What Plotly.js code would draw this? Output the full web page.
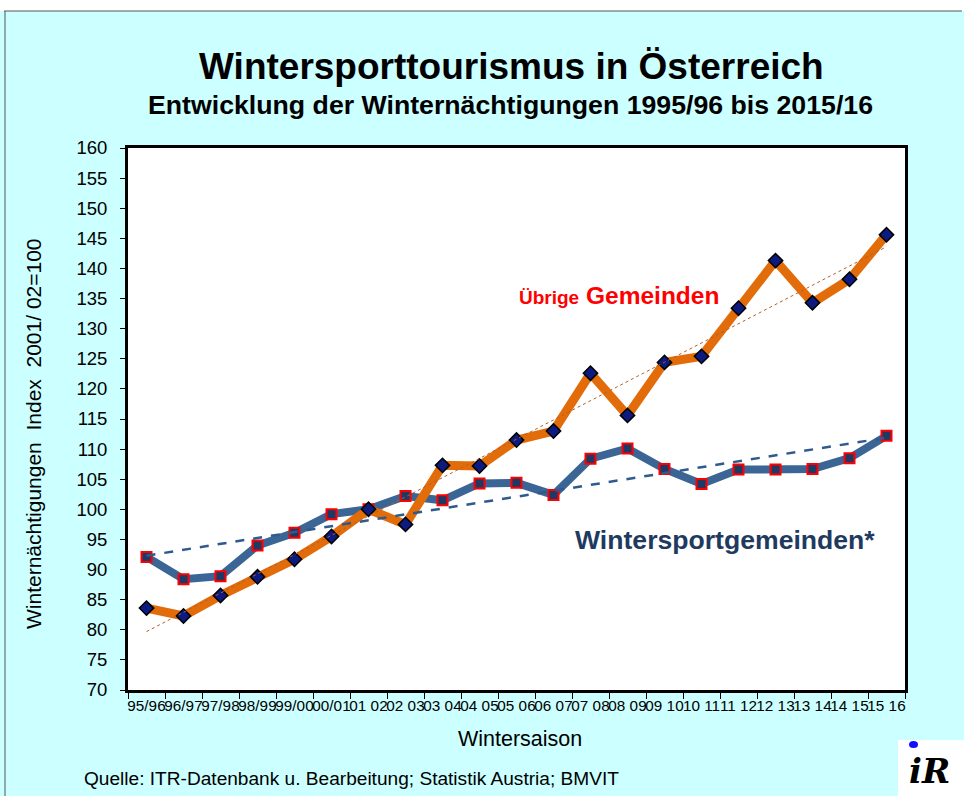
<!DOCTYPE html>
<html>
<head>
<meta charset="utf-8">
<script src="https://cdn.plot.ly/plotly-3.0.1.min.js"></script>
<style>html,body{margin:0;padding:0;background:#fff;}#chart{width:964px;height:796px;}</style>
</head>
<body>
<div id="chart"></div>
<script>
// ---- data ----
const seasons = ["95/96","96/97","97/98","98/99","99/00","00/01","01 02","02 03","03 04","04 05",
                 "05 06","06 07","07 08","08 09","09 10","10 11","11 12","12 13","13 14","14 15","15 16"];
const wintersport = [92.1, 88.4, 88.9, 94.0, 96.1, 99.2, 100.0, 102.2, 101.5, 104.3,
                     104.4, 102.4, 108.4, 110.1, 106.7, 104.2, 106.6, 106.6, 106.7, 108.5, 112.2];
const uebrige = [83.6, 82.3, 85.7, 88.8, 91.7, 95.5, 100.0, 97.5, 107.3, 107.2,
                 111.5, 113.0, 122.6, 115.6, 124.4, 125.4, 133.4, 141.3, 134.3, 138.2, 145.6];
// linear trend lines (start / end value)
const trendWintersport = [92.3, 111.9];
const trendUebrige = [79.7, 143.6];

const idx = seasons.map((s, i) => i);
const trendX = [0, seasons.length - 1];

const FONT = '"Liberation Sans", Arial, Helvetica, sans-serif';

const traces = [
  {
    x: idx, y: wintersport, type: 'scatter', mode: 'lines+markers',
    line: {color: '#3A6595', width: 8},
    marker: {symbol: 'square', size: 10, color: '#1F3864', line: {color: '#FF0000', width: 2}},
    hoverinfo: 'y'
  },
  {
    x: idx, y: uebrige, type: 'scatter', mode: 'lines+markers',
    line: {color: '#E36C0A', width: 9},
    marker: {symbol: 'diamond', size: 11, color: '#0D1A80', line: {color: '#000000', width: 1.5}},
    hoverinfo: 'y'
  },
  {
    x: trendX, y: trendWintersport, type: 'scatter', mode: 'lines',
    line: {color: '#2F5A8C', width: 2.5, dash: 'dash'}, hoverinfo: 'skip'
  },
  {
    x: trendX, y: trendUebrige, type: 'scatter', mode: 'lines',
    line: {color: '#B0602A', width: 1, dash: 'dot'}, hoverinfo: 'skip'
  }
];

function px2x(p) { return (p - 128) / 777; }
function px2y(p) { return (690 - p) / 542; }

const layout = {
  width: 964, height: 796,
  margin: {l: 128, r: 59, t: 148, b: 106, pad: 0},
  paper_bgcolor: '#CCFFFF',
  plot_bgcolor: '#FFFFFF',
  showlegend: false,
  font: {family: FONT, color: '#000000', size: 15},
  xaxis: {
    range: [-0.5, seasons.length - 0.5],
    tickmode: 'array', tickvals: idx, ticktext: seasons, tickangle: 0,
    ticks: '', showgrid: false, zeroline: false,
    showline: true, linecolor: '#000000', linewidth: 3, mirror: true,
    tickfont: {family: FONT, size: 15.3, color: '#000000'},
    minor: {tickmode: 'linear', tick0: -0.5, dtick: 1, ticks: 'outside', ticklen: 6, tickcolor: '#000000', tickwidth: 1, showgrid: false}
  },
  yaxis: {
    range: [70, 160], tickmode: 'linear', tick0: 70, dtick: 5,
    ticks: 'outside', ticklen: 5, tickcolor: '#000000', tickwidth: 1,
    ticklabelstandoff: 9,
    showgrid: false, zeroline: false,
    showline: true, linecolor: '#000000', linewidth: 3, mirror: true,
    tickfont: {family: FONT, size: 18.5, color: '#000000'}
  },
  shapes: [
    {type: 'rect', xref: 'paper', yref: 'paper', x0: px2x(-5), x1: px2x(970), y0: px2y(11), y1: px2y(-5),
     fillcolor: '#FFFFFF', line: {width: 0}, layer: 'above'},
    {type: 'line', xref: 'paper', yref: 'paper', x0: px2x(4), x1: px2x(962), y0: px2y(11), y1: px2y(11),
     line: {color: '#555555', width: 1}},
    {type: 'line', xref: 'paper', yref: 'paper', x0: px2x(5), x1: px2x(5), y0: px2y(11), y1: px2y(800),
     line: {color: '#555555', width: 1}},
    // logo box
    {type: 'rect', xref: 'paper', yref: 'paper', x0: px2x(898), x1: px2x(970), y0: px2y(740), y1: px2y(800),
     fillcolor: '#FFFFFF', line: {width: 0}},
    {type: 'circle', xref: 'paper', yref: 'paper', x0: px2x(909), x1: px2x(918), y0: px2y(741), y1: px2y(748),
     fillcolor: '#1010FF', line: {width: 0}}
  ],
  annotations: [
    {text: '<b>Wintersporttourismus in Österreich</b>', xref: 'paper', yref: 'paper',
     x: px2x(511), y: px2y(66), showarrow: false, xanchor: 'center', yanchor: 'middle',
     font: {family: FONT, size: 37, color: '#000000'}},
    {text: '<b>Entwicklung der Winternächtigungen 1995/96 bis 2015/16</b>', xref: 'paper', yref: 'paper',
     x: px2x(510), y: px2y(105), showarrow: false, xanchor: 'center', yanchor: 'middle',
     font: {family: FONT, size: 26.7, color: '#000000'}},
    {text: 'Winternächtigungen  Index  2001/ 02=100', xref: 'paper', yref: 'paper',
     x: px2x(33), y: px2y(434), showarrow: false, textangle: -90, xanchor: 'center', yanchor: 'middle',
     font: {family: FONT, size: 21, color: '#000000'}},
    {text: 'Wintersaison', xref: 'paper', yref: 'paper',
     x: px2x(520), y: px2y(739), showarrow: false, xanchor: 'center', yanchor: 'middle',
     font: {family: FONT, size: 21.5, color: '#000000'}},
    {text: 'Quelle: ITR-Datenbank u. Bearbeitung; Statistik Austria; BMVIT', xref: 'paper', yref: 'paper',
     x: px2x(82), y: px2y(779), showarrow: false, xanchor: 'left', yanchor: 'middle',
     font: {family: FONT, size: 19.1, color: '#000000'}},
    {text: '<b><span style="font-size:19px">Übrige</span> Gemeinden</b>', xref: 'paper', yref: 'paper',
     x: px2x(517), y: px2y(295), showarrow: false, xanchor: 'left', yanchor: 'middle',
     font: {family: FONT, size: 24.5, color: '#FF0000'}},
    {text: '<b>Wintersportgemeinden*</b>', xref: 'paper', yref: 'paper',
     x: px2x(573), y: px2y(540), showarrow: false, xanchor: 'left', yanchor: 'middle',
     font: {family: FONT, size: 26.6, color: '#1F3A60'}},
    {text: '<b><i>iR</i></b>', xref: 'paper', yref: 'paper',
     x: px2x(929), y: px2y(771), showarrow: false, xanchor: 'center', yanchor: 'middle',
     font: {family: '"DejaVu Serif", serif', size: 34, color: '#000000'}}
  ]
};

Plotly.newPlot('chart', traces, layout, {displayModeBar: false, staticPlot: true});
</script>
</body>
</html>
